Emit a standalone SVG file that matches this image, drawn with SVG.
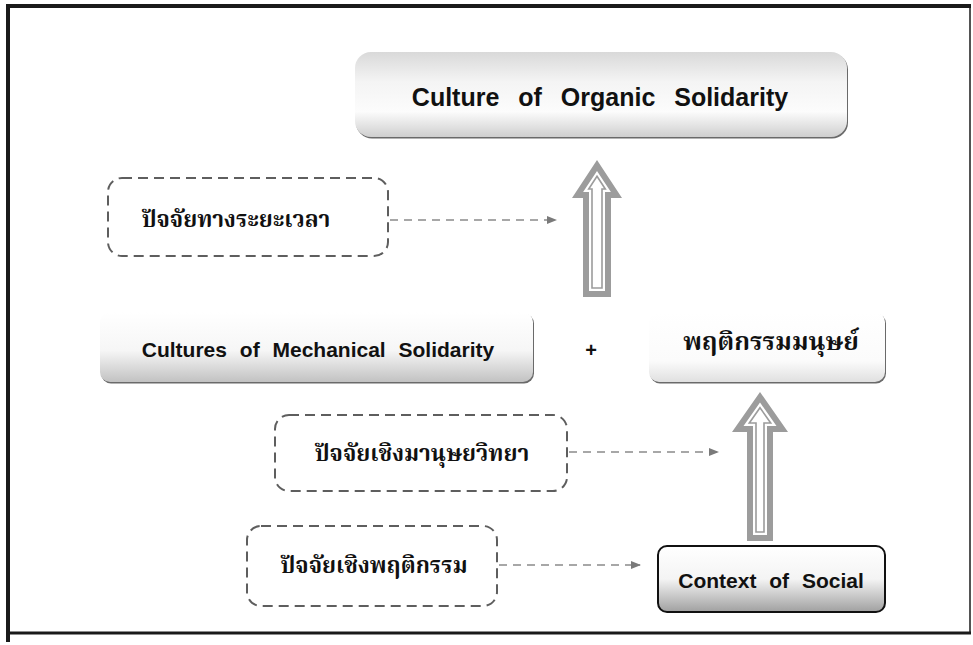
<svg xmlns="http://www.w3.org/2000/svg" width="973" height="645" viewBox="0 0 973 645">
  <defs>
    <linearGradient id="gTop" x1="0" y1="0" x2="0" y2="1">
      <stop offset="0" stop-color="#d9d9d9"/>
      <stop offset="0.35" stop-color="#f4f4f4"/>
      <stop offset="0.7" stop-color="#fcfcfc"/>
      <stop offset="1" stop-color="#cfcfcf"/>
    </linearGradient>
    <linearGradient id="gMech" x1="0" y1="0" x2="0" y2="1">
      <stop offset="0" stop-color="#ffffff"/>
      <stop offset="0.55" stop-color="#f6f6f6"/>
      <stop offset="1" stop-color="#c2c2c2"/>
    </linearGradient>
    <linearGradient id="gHuman" x1="0" y1="0" x2="0" y2="1">
      <stop offset="0" stop-color="#ffffff"/>
      <stop offset="0.7" stop-color="#fbfbfb"/>
      <stop offset="1" stop-color="#e0e0e0"/>
    </linearGradient>
    <linearGradient id="gCtx" x1="0" y1="0" x2="0" y2="1">
      <stop offset="0" stop-color="#ffffff"/>
      <stop offset="0.5" stop-color="#f4f4f4"/>
      <stop offset="1" stop-color="#a0a0a0"/>
    </linearGradient>
    <marker id="tri" markerWidth="10" markerHeight="10" refX="9" refY="5" orient="auto" markerUnits="userSpaceOnUse">
      <path d="M0,1 L10,5 L0,9 Z" fill="#7a7a7a"/>
    </marker>
    <style>
      .en { font-family: "Liberation Sans", Arial, sans-serif; fill: #111; text-anchor: middle; font-weight: bold; }
      .th { font-family: "Noto Serif Thai", "Noto Sans Thai", "TH Sarabun New", "Norasi", "Garuda", "Loma", serif; fill: #111; text-anchor: middle; font-weight: bold; }
      .dash { fill: none; stroke: #5e5e5e; stroke-width: 2; stroke-dasharray: 10 6; }
      .link { fill: none; stroke: #8a8a8a; stroke-width: 1.6; stroke-dasharray: 8 6; marker-end: url(#tri); }
      .shadow { fill: #6a6a6a; }
      .arrowOut { fill: #9c9c9c; }
      .arrowIn { fill: #ffffff; }
      .arrowLine { fill: #ffffff; stroke: #9c9c9c; stroke-width: 1.6; }
    </style>
  </defs>

  <rect width="973" height="645" fill="#ffffff"/>

  <!-- page frame -->
  <g id="frame" fill="none" stroke="#1a1a1a">
    <line x1="8" y1="6" x2="971" y2="6" stroke-width="4"/>
    <line x1="8" y1="4" x2="8" y2="642" stroke-width="4"/>
    <line x1="970" y1="6" x2="970" y2="634" stroke-width="1.5"/>
    <line x1="8" y1="633" x2="971" y2="633" stroke-width="3"/>
  </g>

  <!-- connectors -->
  <g id="connectors">
    <path class="link" d="M390,220 H556"/>
    <path class="link" d="M569,452 H718"/>
    <path class="link" d="M499,565 H640"/>

    <!-- hollow block arrow up to the top node -->
    <g id="arrow-up-1">
      <polygon class="arrowOut" points="597,160 622,198 611,198 611,297 583,297 583,198 572,198"/>
      <polygon class="arrowIn" points="597,170.9 610.9,192 605,192 605,291 589,291 589,192 583.1,192"/>
      <polygon class="arrowLine" points="597,176.3 605.3,189 602,189 602,288 592,288 592,189 588.7,189"/>
    </g>
    <!-- hollow block arrow up to the behaviour node -->
    <g id="arrow-up-2">
      <polygon class="arrowOut" points="760,392 788,432 773,432 773,541 747,541 747,432 732,432"/>
      <polygon class="arrowIn" points="760,402.5 776.5,426 767,426 767,535 753,535 753,426 743.5,426"/>
      <polygon class="arrowLine" points="760,407.7 770.7,423 764,423 764,532 756,532 756,423 749.3,423"/>
    </g>
  </g>

  <!-- Culture of Organic Solidarity -->
  <g id="organic">
    <rect class="shadow" x="356" y="53.5" width="492" height="85" rx="16"/>
    <rect x="355" y="52" width="492" height="85" rx="16" fill="url(#gTop)"/>
    <text class="en" x="600" y="106" font-size="25" word-spacing="12">Culture of Organic Solidarity</text>
  </g>

  <!-- time factor -->
  <g id="time-factor">
    <rect class="dash" x="108" y="178" width="280" height="78" rx="14"/>
    <text class="th" x="236" y="227" font-size="22.5">ปัจจัยทางระยะเวลา</text>
  </g>

  <!-- Cultures of Mechanical Solidarity -->
  <g id="mechanical">
    <rect class="shadow" x="101" y="313.5" width="433" height="70" rx="10"/>
    <rect x="100" y="312" width="433" height="70" rx="10" fill="url(#gMech)"/>
    <text class="en" x="318" y="357" font-size="21" word-spacing="7">Cultures of Mechanical Solidarity</text>
  </g>

  <g id="plus">
    <text class="en" x="591" y="357" font-size="20">+</text>
  </g>

  <!-- human behaviour -->
  <g id="human-behaviour">
    <rect class="shadow" x="650" y="313.5" width="236" height="70" rx="10"/>
    <rect x="649" y="312" width="236" height="70" rx="10" fill="url(#gHuman)"/>
    <text class="th" x="771" y="350" font-size="25">พฤติกรรมมนุษย์</text>
  </g>

  <!-- anthropological factor -->
  <g id="anthro-factor">
    <rect class="dash" x="275" y="415" width="292" height="76" rx="14"/>
    <text class="th" x="422" y="461" font-size="22.5">ปัจจัยเชิงมานุษยวิทยา</text>
  </g>

  <!-- behavioural factor -->
  <g id="behaviour-factor">
    <rect class="dash" x="247" y="526" width="250" height="80" rx="14"/>
    <text class="th" x="374" y="573" font-size="22.5">ปัจจัยเชิงพฤติกรรม</text>
  </g>

  <!-- Context of Social -->
  <g id="context">
    <rect x="658" y="546" width="227" height="66" rx="9" fill="url(#gCtx)" stroke="#111" stroke-width="2"/>
    <text class="en" x="771" y="588" font-size="21" word-spacing="7">Context of Social</text>
  </g>
</svg>
